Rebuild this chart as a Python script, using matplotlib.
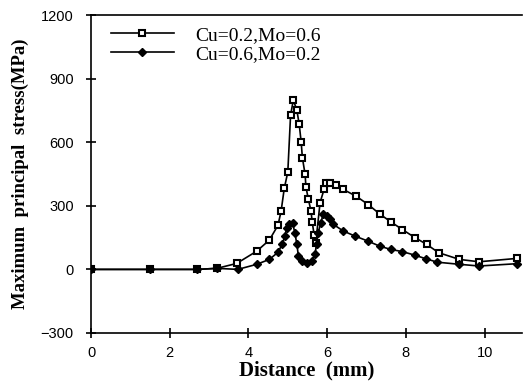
import matplotlib

matplotlib.use("Agg")
import matplotlib.pyplot as plt

# Cu=0.2, Mo=0.6 (open squares)
x_a = [0.0, 1.5, 2.7, 3.2, 3.7, 4.21, 4.53, 4.75, 4.83, 4.91, 5.0, 5.07, 5.14,
       5.23, 5.29, 5.34, 5.37, 5.44, 5.46, 5.52, 5.59, 5.62, 5.67, 5.71, 5.82,
       5.92, 5.98, 6.08, 6.22, 6.41, 6.73, 7.05, 7.33, 7.62, 7.91, 8.23, 8.53,
       8.83, 9.36, 9.86, 10.83]
y_a = [0, 0, 0, 5, 28, 86, 138, 208, 275, 382, 459, 726, 799,
       751, 684, 600, 527, 448, 390, 333, 275, 223, 162, 126, 315,
       377, 408, 408, 398, 377, 346, 305, 262, 224, 188, 150, 118,
       79, 47, 36, 52]

# Cu=0.6, Mo=0.2 (filled diamonds)
x_b = [0.0, 1.5, 2.7, 3.2, 3.73, 4.21, 4.53, 4.76, 4.85, 4.93, 4.97, 5.04,
       5.12, 5.18, 5.23, 5.27, 5.35, 5.48, 5.62, 5.69, 5.73, 5.77, 5.84, 5.9,
       5.99, 6.07, 6.16, 6.41, 6.71, 7.03, 7.33, 7.62, 7.91, 8.23, 8.51, 8.8,
       9.36, 9.86, 10.83]
y_b = [0, 0, 0, 5, 0, 24, 47, 82, 118, 157, 197, 212,
       218, 173, 118, 63, 39, 32, 39, 71, 118, 173, 220, 262,
       250, 236, 212, 181, 157, 134, 110, 94, 84, 67, 50, 34,
       24, 16, 27]

label_a = "Cu=0.2,Mo=0.6"
label_b = "Cu=0.6,Mo=0.2"
xticks = [0, 2, 4, 6, 8, 10]
yticks = [-300, 0, 300, 600, 900, 1200]

fig = plt.figure(figsize=(5.24, 3.88), dpi=100)
ax = fig.add_axes([91 / 524, 55 / 388, 431 / 524, 318 / 388])

ax.plot(x_a, y_a, color="black", lw=1.2, marker="s", ms=4.5,
        mfc="white", mec="black", mew=1.5, label=label_a)
ax.plot(x_b, y_b, color="black", lw=1.2, marker="D", ms=4,
        mfc="black", mec="black", label=label_b)

ax.set_xlim(0, 10.95)
ax.set_ylim(-300, 1200)
ax.set_xticks(xticks)
ax.set_yticks(yticks)
ax.spines["right"].set_visible(False)
for s in ["left", "bottom", "top"]:
    ax.spines[s].set_linewidth(1.2)
ax.tick_params(direction="inout", length=7, width=1.2, labelsize=10.5)
ax.tick_params(axis="y", pad=9)
ax.tick_params(axis="x", pad=6)
for lab in ax.get_xticklabels() + ax.get_yticklabels():
    lab.set_family("Liberation Sans")

ax.set_xlabel("Distance  (mm)", family="Liberation Serif", weight="bold",
              fontsize=15, labelpad=0)
ax.set_ylabel("Maximum  principal  stress(MPa)", family="Liberation Serif",
              weight="bold", fontsize=13.5, labelpad=8)

ax.legend(loc="upper left", frameon=False, prop={"family": "Liberation Serif", "size": 14},
          handlelength=3.2, handletextpad=1.1, labelspacing=0.05,
          borderaxespad=0.2, bbox_to_anchor=(0.02, 1.0))

fig.savefig("out.png", dpi=100)
